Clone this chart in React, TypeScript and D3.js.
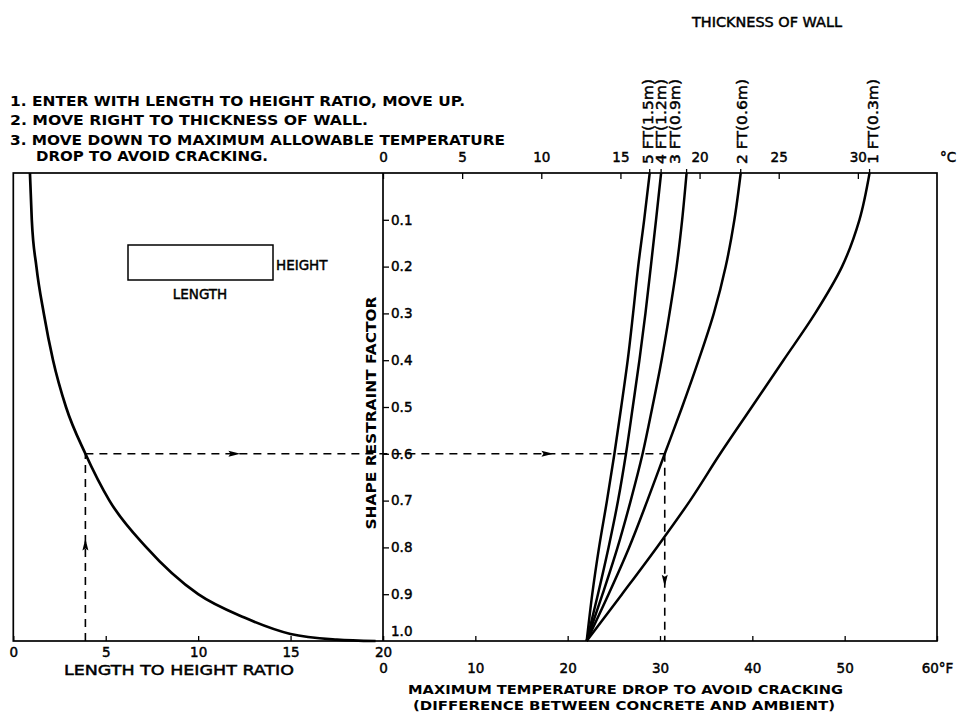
import React, { useEffect, useRef } from "react";
import * as d3 from "d3";

const W = 971;
const H = 719;

// wall curves: max temperature drop (°C) at each shape restraint factor level
const factorLevels = [0, 0.1, 0.2, 0.3, 0.4, 0.5, 0.6, 0.7, 0.8, 0.9, 1.0];
const wallLabels = ["5 FT(1.5m)", "4 FT(1.2m)", "3 FT(0.9m)", "2 FT(0.6m)", "1 FT(0.3m)"];
const wall5ft = [16.85, 16.5, 16.12, 15.8, 15.46, 15.05, 14.62, 14.15, 13.65, 13.22, 12.87];
const wall4ft = [17.57, 17.25, 16.92, 16.58, 16.2, 15.78, 15.35, 14.85, 14.25, 13.58, 12.87];
const wall3ft = [19.18, 18.9, 18.55, 18.1, 17.6, 17.02, 16.4, 15.65, 14.82, 13.87, 12.87];
const wall2ft = [22.6, 22.2, 21.65, 20.9, 19.94, 18.9, 17.8, 16.7, 15.55, 14.25, 12.87];
const wall1ft = [30.74, 30.1, 29.0, 27.3, 25.3, 23.3, 21.3, 19.4, 17.3, 15.1, 12.87];

// left curve: length to height ratio vs shape restraint factor
const ratioValues = [0.9, 1.0, 1.25, 1.65, 2.15, 2.85, 3.9, 5.2, 7.2, 10.0, 12.5, 15.0, 17.5, 19.6];
const ratioFactor = [0, 0.1, 0.2, 0.3, 0.4, 0.5, 0.6, 0.7, 0.8, 0.9, 0.95, 0.985, 0.997, 1.0];

// tick values
const ratioTicks = [0, 5, 10, 15, 20];
const celsiusTicks = [0, 5, 10, 15, 20, 25, 30];
const fahrenheitTicks = [0, 10, 20, 30, 40, 50, 60];
const factorTicks = [0.1, 0.2, 0.3, 0.4, 0.5, 0.6, 0.7, 0.8, 0.9];

// worked example (dashed path)
const exampleRatio = 3.9;
const exampleFactor = 0.6;
const exampleDrop = 17.8; // °C, where 0.6 meets the 2 FT curve
const arrowUpFactor = 0.8;
const arrowRightRatio = 11.8;
const arrowRightDrop = 10.2;
const arrowDownFactor = 0.865;

const instructions = [
    "1. ENTER WITH LENGTH TO HEIGHT RATIO, MOVE UP.",
    "2. MOVE RIGHT TO THICKNESS OF WALL.",
    "3. MOVE DOWN TO MAXIMUM ALLOWABLE TEMPERATURE",
    "DROP TO AVOID CRACKING.",
];

const FONT = "'DejaVu Sans', sans-serif";
// label nudges so the rotated wall labels don't collide with the °C ticks
const labelNudge = [-2, 0, -12, 1, 3];

export default function App() {
    const svgRef = useRef<SVGSVGElement | null>(null);

    useEffect(() => {
        const svg = d3.select(svgRef.current);
        svg.selectAll("*").remove();

        const xRatio = d3.scaleLinear().domain([0, 20]).range([13.3, 383]);
        const xC = d3.scaleLinear().domain([0, 35]).range([383, 937]);
        const xF = d3.scaleLinear().domain([0, 60]).range([383, 937]);
        const y = d3.scaleLinear().domain([0, 1]).range([173, 641]);

        svg.append("rect").attr("width", W).attr("height", H).attr("fill", "#fff");

        // plain lettering, thickened a little to look like the drafted text
        const letter = (sel: any, size = 13) =>
            sel.attr("font-family", FONT)
                .attr("font-size", size)
                .attr("fill", "#000")
                .attr("stroke", "#000")
                .attr("stroke-width", 0.45);

        // === frame ===
        svg.append("rect")
            .attr("x", xRatio(0))
            .attr("y", y(0))
            .attr("width", xC(35) - xRatio(0))
            .attr("height", y(1) - y(0))
            .attr("fill", "none")
            .attr("stroke", "#000")
            .attr("stroke-width", 1.7);

        const styleAxis = (g: any) => {
            g.select(".domain").remove();
            g.attr("font-family", null).attr("font-size", null);
            g.selectAll(".tick line").attr("stroke", "#000").attr("stroke-width", 1.3);
            letter(g.selectAll("text"), 13.5);
        };

        // === top °C axis ===
        svg.append("g")
            .attr("transform", `translate(0,${y(0)})`)
            .call(d3.axisTop(xC).tickValues(celsiusTicks).tickSize(-6).tickPadding(11).tickFormat(d3.format("d")))
            .call(styleAxis);
        letter(svg.append("text"), 13.5)
            .attr("x", xC(35) + 3)
            .attr("y", y(0) - 11)
            .text("°C");

        // === bottom left ratio axis ===
        svg.append("g")
            .attr("transform", `translate(0,${y(1)})`)
            .call(d3.axisBottom(xRatio).tickValues(ratioTicks).tickSize(-5).tickPadding(6).tickFormat(d3.format("d")))
            .call(styleAxis);

        // === bottom right °F axis ===
        svg.append("g")
            .attr("transform", `translate(0,${y(1)})`)
            .call(d3.axisBottom(xF).tickValues(fahrenheitTicks).tickSize(-5).tickPadding(22)
                .tickFormat((d: any) => (d === 60 ? "60°F" : String(d))))
            .call(styleAxis);

        // === shape restraint factor axis ===
        svg.append("g")
            .attr("transform", `translate(${xC(0)},0)`)
            .call(d3.axisRight(y).tickValues(factorTicks).tickSize(6).tickPadding(2).tickFormat(d3.format(".1f")))
            .call(styleAxis);
        svg.append("line")
            .attr("x1", xC(0)).attr("x2", xC(0))
            .attr("y1", y(0)).attr("y2", y(1))
            .attr("stroke", "#000").attr("stroke-width", 1.7);
        letter(svg.append("text"), 13.5)
            .attr("x", xC(0) + 8)
            .attr("y", y(1) - 5)
            .text("1.0");

        // === left curve ===
        const ratioLine = d3.line<number>()
            .x((d) => xRatio(d))
            .y((d, i) => y(ratioFactor[i]))
            .curve(d3.curveMonotoneX);
        svg.append("path")
            .datum(ratioValues)
            .attr("fill", "none")
            .attr("stroke", "#000")
            .attr("stroke-width", 2.7)
            .attr("d", ratioLine);

        // === wall curves ===
        const walls = [wall5ft, wall4ft, wall3ft, wall2ft, wall1ft];
        const wallLine = d3.line<number>()
            .x((d) => xC(d))
            .y((d, i) => y(factorLevels[i]))
            .curve(d3.curveMonotoneY);
        walls.forEach((w, k) => {
            svg.append("path")
                .datum(w)
                .attr("fill", "none")
                .attr("stroke", "#000")
                .attr("stroke-width", 2.5)
                .attr("d", wallLine);
            svg.append("line")
                .attr("x1", xC(w[0])).attr("x2", xC(w[0]))
                .attr("y1", y(0) - 4).attr("y2", y(0))
                .attr("stroke", "#000").attr("stroke-width", 1.3);
            letter(svg.append("text"), 13.5)
                .attr("transform", `translate(${xC(w[0]) + labelNudge[k] + 5},${y(0) - 9}) rotate(-90)`)
                .attr("textLength", 85)
                .attr("lengthAdjust", "spacingAndGlyphs")
                .text(wallLabels[k]);
        });

        // === dashed worked example ===
        const dashed = (x1: number, y1: number, x2: number, y2: number) =>
            svg.append("line")
                .attr("x1", x1).attr("y1", y1).attr("x2", x2).attr("y2", y2)
                .attr("stroke", "#000")
                .attr("stroke-width", 1.6)
                .attr("stroke-dasharray", "8,6");
        dashed(xRatio(exampleRatio), y(1), xRatio(exampleRatio), y(exampleFactor));
        dashed(xRatio(exampleRatio), y(exampleFactor), xC(exampleDrop), y(exampleFactor));
        dashed(xC(exampleDrop), y(exampleFactor), xC(exampleDrop), y(1));

        const arrow = (cx: number, cy: number, angle: number) =>
            svg.append("path")
                .attr("d", "M0,-9 L3,3 L0,1 L-3,3 Z")
                .attr("transform", `translate(${cx},${cy}) rotate(${angle})`)
                .attr("fill", "#000");
        arrow(xRatio(exampleRatio), y(arrowUpFactor), 0);
        arrow(xRatio(arrowRightRatio), y(exampleFactor), 90);
        arrow(xC(arrowRightDrop), y(exampleFactor), 90);
        arrow(xC(exampleDrop), y(arrowDownFactor), 180);

        // === small length/height sketch ===
        svg.append("rect")
            .attr("x", 128).attr("y", 245).attr("width", 145).attr("height", 35)
            .attr("fill", "none").attr("stroke", "#000").attr("stroke-width", 1.5);
        letter(svg.append("text"), 13.5)
            .attr("x", 276).attr("y", 270)
            .text("HEIGHT");
        letter(svg.append("text"), 13.5)
            .attr("x", 200).attr("y", 299)
            .attr("text-anchor", "middle")
            .text("LENGTH");

        // === titles & notes ===
        letter(svg.append("text"), 13.5)
            .attr("x", 692).attr("y", 27)
            .attr("textLength", 150).attr("lengthAdjust", "spacingAndGlyphs")
            .text("THICKNESS OF WALL");

        const noteX = [10, 10, 10, 36];
        const noteY = [106, 125, 145, 161];
        const noteLen = [455, 358, 495, 232];
        instructions.forEach((t, i) => {
            svg.append("text")
                .attr("x", noteX[i]).attr("y", noteY[i])
                .attr("font-family", FONT).attr("font-size", 14).attr("font-weight", "bold")
                .attr("textLength", noteLen[i]).attr("lengthAdjust", "spacingAndGlyphs")
                .text(t);
        });

        svg.append("text")
            .attr("transform", `translate(376,413) rotate(-90)`)
            .attr("text-anchor", "middle")
            .attr("font-family", FONT).attr("font-size", 14).attr("font-weight", "bold")
            .attr("textLength", 233).attr("lengthAdjust", "spacingAndGlyphs")
            .text("SHAPE RESTRAINT FACTOR");

        letter(svg.append("text"), 13.5)
            .attr("x", 64).attr("y", 675)
            .attr("textLength", 230).attr("lengthAdjust", "spacingAndGlyphs")
            .text("LENGTH TO HEIGHT RATIO");

        svg.append("text")
            .attr("x", 408).attr("y", 694)
            .attr("font-family", FONT).attr("font-size", 13).attr("font-weight", "bold")
            .attr("textLength", 435).attr("lengthAdjust", "spacingAndGlyphs")
            .text("MAXIMUM TEMPERATURE DROP TO AVOID CRACKING");
        svg.append("text")
            .attr("x", 413).attr("y", 710)
            .attr("font-family", FONT).attr("font-size", 13).attr("font-weight", "bold")
            .attr("textLength", 422).attr("lengthAdjust", "spacingAndGlyphs")
            .text("(DIFFERENCE BETWEEN CONCRETE AND AMBIENT)");
    }, []);

    return (
        <svg
            ref={svgRef}
            width={W}
            height={H}
            style={{ position: "absolute", left: 0, top: 0, background: "#fff" }}
        ></svg>
    );
}
